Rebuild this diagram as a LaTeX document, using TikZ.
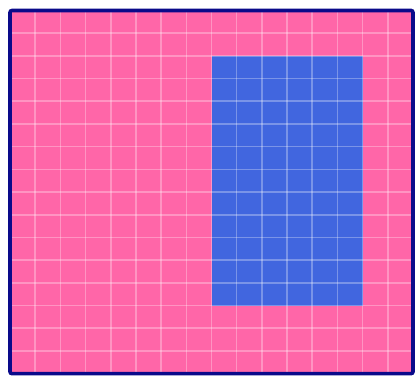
\documentclass[tikz,border=0pt]{standalone}
\usepackage{tikz}
\usetikzlibrary{calc}
\definecolor{fieldpink}{HTML}{FF66A8}
\definecolor{patchblue}{HTML}{4166DF}
\definecolor{framenavy}{HTML}{0A0A8A}
\tikzset{
field/.style={
	fill=fieldpink,
	draw=none
},
patch/.style={
	fill=patchblue,
	draw=none
},
gridline/.style={
	draw=white,
	opacity=0.3,
	line width=1.6pt
},
frame/.style={
	draw=framenavy,
	line width=3.6pt,
	rounded corners=2pt
}
}
\begin{document}
\begin{tikzpicture}[x=25.19pt, y=22.7pt]

\useasboundingbox ([xshift=-10pt,yshift=-3.2pt]0,0) rectangle ([xshift=2pt,yshift=10.5pt]16,16);

\coordinate (fieldSW) at (0,0);
\coordinate (fieldNE) at (16,16);
\coordinate (patchSW) at (8,3);
\coordinate (patchNE) at (14,14);

% pink field and blue patch
\fill [field] (fieldSW) rectangle (fieldNE);
\fill [patch] (patchSW) rectangle (patchNE);

% light grid over both
\foreach \i in {1,...,15} {
	\draw [gridline] (\i,0) -- (\i,16);
	\draw [gridline] (0,\i) -- (16,\i);
}

% outer frame
\draw [frame] (fieldSW) rectangle (fieldNE);

\end{tikzpicture}
\end{document}
